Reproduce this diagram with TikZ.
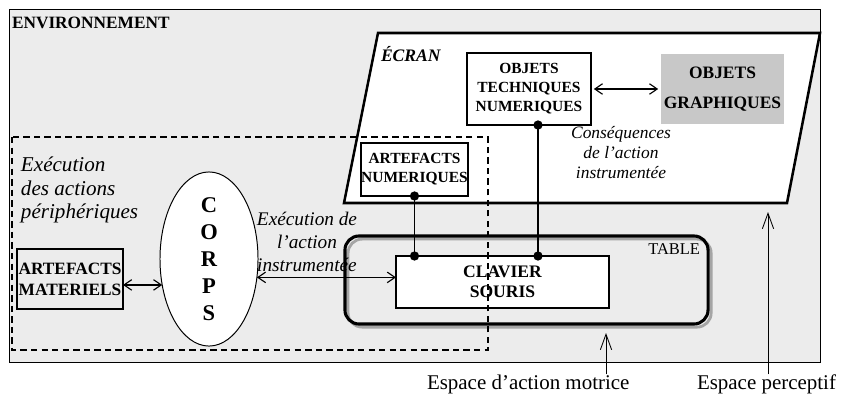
\documentclass[tikz,border=0pt]{standalone}
\usepackage{fontspec}
\setmainfont{Liberation Serif}
\usepackage{tikz}
\usetikzlibrary{arrows.meta,positioning,shapes.geometric,calc}
\usepackage{xcolor}
\definecolor{ENVgray}{RGB}{236,236,236}
\definecolor{GRAgray}{RGB}{200,200,200}
\definecolor{SHDgray}{RGB}{165,165,165}
\newcommand{\pxu}{0.7113pt}

\begin{document}
\begin{tikzpicture}[x=0.025cm, y=-0.025cm, every node/.style={inner sep=0pt, outer sep=0pt}, box/.style={draw, line width=1.4pt, fill=white, align=center, font=\bfseries\fontsize{11}{13.5}\selectfont}, note/.style={align=center, font=\itshape\fontsize{12.4}{14.2}\selectfont}, darr/.style={{Straight Barb[length=5.5pt,width=7.5pt]}-{Straight Barb[length=5.5pt,width=7.5pt]}, line width=0.8pt}, link/.style={{Circle[length=6.5pt]}-{Circle[length=6.5pt]}, line width=1.4pt, shorten <=-3.25pt, shorten >=-3.25pt}, uparr/.style={-{Straight Barb[length=11pt,width=8pt]}, line width=0.6pt}]
\useasboundingbox (0,0) rectangle (841,396);
% environnement
\draw[fill=ENVgray, line width=0.7pt] (9,9) rectangle (820,362);
\node[anchor=base west, font=\bfseries\fontsize{12.3}{14}\selectfont] (env) at (12,28) {ENVIRONNEMENT};
% ecran
\draw[fill=white, line width=1.8pt] (378,33) -- (820,33) -- (787,203) -- (344,203) -- cycle;
\node[anchor=base west, font=\bfseries\itshape\fontsize{12.5}{14}\selectfont] (ecran) at (381,61) {ÉCRAN};
% table
\node[draw, line width=2.2pt, rounded corners=10pt, minimum width=363*\pxu, minimum height=88*\pxu, preaction={draw=SHDgray, line width=2pt, transform canvas={xshift=2.2pt, yshift=-2.2pt}}] (tbl) at (526.5,280) {};
\node[anchor=base east, font=\fontsize{11.7}{14}\selectfont] (tlab) at (700,254) {TABLE};
% boites
\node[box, minimum width=124*\pxu, minimum height=72*\pxu] (otn) at (529,89) {OBJETS\\TECHNIQUES\\NUMERIQUES};
\node[fill=GRAgray, align=center, font=\bfseries\fontsize{12.4}{21}\selectfont, minimum width=123*\pxu, minimum height=70*\pxu] (ogr) at (722.5,89) {OBJETS\\GRAPHIQUES};
\node[box, minimum width=107*\pxu, minimum height=53*\pxu] (an) at (414.5,169.5) {ARTEFACTS\\NUMERIQUES};
\node[box, font=\bfseries\fontsize{12.5}{14.2}\selectfont, line width=1.1pt, minimum width=213*\pxu, minimum height=52*\pxu] (cs) at (502.5,282) {CLAVIER\\SOURIS};
\node[box, fill=none, font=\bfseries\fontsize{12.3}{15}\selectfont, minimum width=106*\pxu, minimum height=60*\pxu] (am) at (70,279) {ARTEFACTS\\MATERIELS};
\node[ellipse, draw, fill=white, line width=0.7pt, minimum width=98*\pxu, minimum height=152*\pxu, align=center, font=\bfseries\fontsize{16}{19.2}\selectfont] (corps) at (209,259) {C\\O\\R\\P\\S};
% textes
\node[note] (cons) at (621,153) {Conséquences\\de l’action\\instrumentée};
\node[note, font=\itshape\fontsize{13.7}{16.4}\selectfont] (exec) at (307,242) {Exécution de\\l’action\\instrumentée};
\node[anchor=west, align=left, font=\itshape\fontsize{15}{17}\selectfont] (peri) at (21,190) {Exécution\\des actions\\périphériques};
% liaisons
\draw[darr, shorten <=2pt, shorten >=2pt] (otn) -- (ogr);
\draw[link] (an.south) -- (an.south |- cs.north);
\draw[link] ([xshift=9*\pxu]otn.south) -- ([xshift=9*\pxu]otn.south |- cs.north);
\draw[darr] (am.east |- corps.209) -- (corps.209);
\draw[darr] (corps.339) -- (corps.339 -| cs.west);
% zone peripherique
\draw[dashed, dash pattern=on 4.5pt off 3pt, line width=0.8pt] (12,137) rectangle (488,350);
% espaces
\node[anchor=base west, font=\fontsize{14.9}{17}\selectfont] (eam) at (427,389) {Espace d’action motrice};
\node[anchor=base west, font=\fontsize{14.9}{17}\selectfont] (ep) at (697,389) {Espace perceptif};
\coordinate (tblb) at (606,333);
\coordinate (ecrb) at (768,212);
\draw[uparr] (eam.north -| tblb) -- (tblb);
\draw[uparr] (ep.north -| ecrb) -- (ecrb);
\end{tikzpicture}
\end{document}
